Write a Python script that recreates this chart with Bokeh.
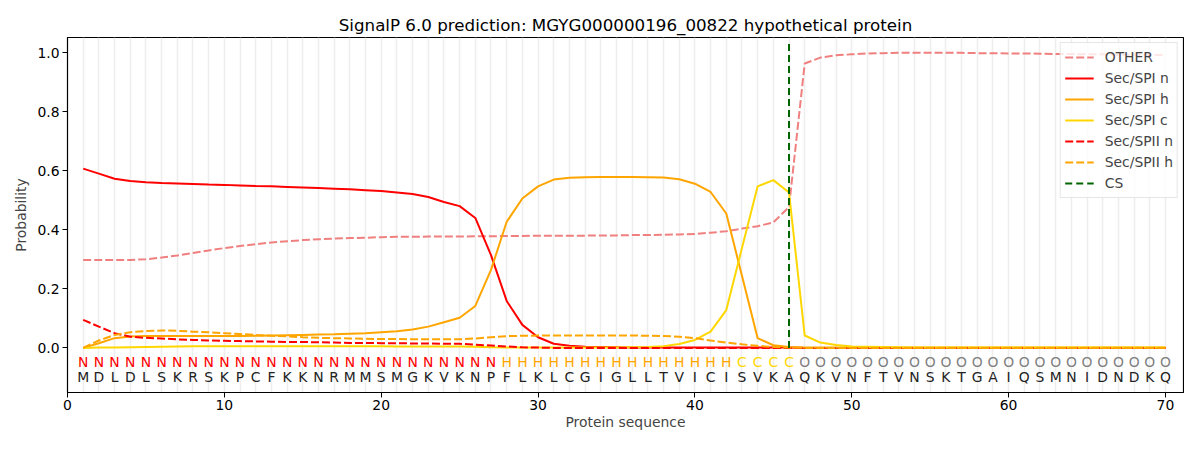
from bokeh.plotting import figure
from bokeh.models import ColumnDataSource, FixedTicker, Range1d, Legend
from bokeh.core.properties import value
from bokeh.embed import file_html
from bokeh.resources import INLINE

positions = list(range(1, 71))
sequence = list("MDLDLSKRSKPCFKKNRMMSMGKVKNPFLKLCGIGLLTVICISVKAQKVNFTVNSKTGAIQSMNIDNDKQ")
labels = list("N" * 27 + "H" * 15 + "C" * 4 + "O" * 24)
cs_position = 46

other = [0.298, 0.298, 0.298, 0.298, 0.300, 0.306, 0.313, 0.321, 0.330, 0.338,
         0.345, 0.351, 0.357, 0.361, 0.365, 0.368, 0.370, 0.372, 0.373, 0.375,
         0.376, 0.376, 0.377, 0.377, 0.377, 0.378, 0.378, 0.379, 0.379, 0.380,
         0.380, 0.380, 0.380, 0.381, 0.381, 0.382, 0.382, 0.383, 0.384, 0.386,
         0.390, 0.395, 0.404, 0.412, 0.425, 0.477, 0.963, 0.983, 0.991, 0.994,
         0.997, 0.998, 0.999, 0.999, 0.999, 0.999, 0.999, 0.998, 0.998, 0.997,
         0.997, 0.996, 0.995, 0.995, 0.994, 0.994, 0.993, 0.993, 0.992, 0.992]
sec_spi_n = [0.607, 0.590, 0.573, 0.565, 0.561, 0.558, 0.557, 0.555, 0.553, 0.552,
             0.550, 0.548, 0.547, 0.545, 0.543, 0.541, 0.539, 0.537, 0.534, 0.531,
             0.526, 0.521, 0.511, 0.494, 0.480, 0.440, 0.314, 0.159, 0.078, 0.036,
             0.014, 0.007, 0.004, 0.003, 0.002, 0.001, 0.001, 0.001, 0.001, 0.001,
             0.001, 0.001, 0.001, 0.001, 0.001, 0.001, 0.000, 0.000, 0.000, 0.000,
             0.000, 0.000, 0.000, 0.000, 0.000, 0.000, 0.000, 0.000, 0.000, 0.000,
             0.000, 0.000, 0.000, 0.000, 0.000, 0.000, 0.000, 0.000, 0.000, 0.000]
sec_spi_h = [0.000, 0.016, 0.033, 0.039, 0.040, 0.040, 0.040, 0.040, 0.040, 0.040,
             0.040, 0.041, 0.042, 0.043, 0.044, 0.045, 0.046, 0.048, 0.050, 0.053,
             0.056, 0.062, 0.072, 0.087, 0.102, 0.142, 0.264, 0.427, 0.506, 0.547,
             0.570, 0.576, 0.578, 0.579, 0.579, 0.579, 0.578, 0.577, 0.571, 0.556,
             0.528, 0.455, 0.244, 0.033, 0.009, 0.003, 0.001, 0.001, 0.001, 0.001,
             0.001, 0.001, 0.001, 0.001, 0.001, 0.001, 0.001, 0.001, 0.001, 0.001,
             0.001, 0.001, 0.001, 0.001, 0.001, 0.001, 0.001, 0.001, 0.001, 0.001]
sec_spi_c = [0.000, 0.001, 0.001, 0.002, 0.003, 0.004, 0.005, 0.006, 0.006, 0.006,
             0.006, 0.006, 0.006, 0.006, 0.006, 0.006, 0.006, 0.006, 0.006, 0.006,
             0.005, 0.005, 0.005, 0.005, 0.005, 0.004, 0.002, 0.001, 0.001, 0.001,
             0.001, 0.001, 0.001, 0.001, 0.001, 0.002, 0.003, 0.006, 0.013, 0.027,
             0.055, 0.128, 0.338, 0.547, 0.568, 0.526, 0.042, 0.018, 0.010, 0.005,
             0.004, 0.003, 0.002, 0.001, 0.001, 0.001, 0.001, 0.001, 0.001, 0.001,
             0.001, 0.001, 0.001, 0.001, 0.001, 0.001, 0.001, 0.001, 0.001, 0.001]
sec_spii_n = [0.095, 0.072, 0.050, 0.038, 0.034, 0.032, 0.029, 0.027, 0.025, 0.024,
              0.023, 0.022, 0.021, 0.020, 0.020, 0.019, 0.018, 0.017, 0.017, 0.016,
              0.016, 0.015, 0.015, 0.014, 0.014, 0.011, 0.008, 0.005, 0.002, 0.001,
              0.000, 0.000, 0.000, 0.000, 0.000, 0.000, 0.000, 0.000, 0.000, 0.000,
              0.000, 0.000, 0.000, 0.000, 0.000, 0.000, 0.000, 0.000, 0.000, 0.000,
              0.000, 0.000, 0.000, 0.000, 0.000, 0.000, 0.000, 0.000, 0.000, 0.000,
              0.000, 0.000, 0.000, 0.000, 0.000, 0.000, 0.000, 0.000, 0.000, 0.000]
sec_spii_h = [0.000, 0.025, 0.044, 0.053, 0.057, 0.059, 0.058, 0.055, 0.053, 0.050,
              0.047, 0.044, 0.041, 0.039, 0.036, 0.034, 0.033, 0.032, 0.031, 0.030,
              0.030, 0.029, 0.029, 0.029, 0.029, 0.032, 0.036, 0.040, 0.041, 0.042,
              0.042, 0.042, 0.042, 0.042, 0.042, 0.042, 0.041, 0.040, 0.038, 0.033,
              0.025, 0.018, 0.012, 0.007, 0.003, 0.001, 0.000, 0.000, 0.000, 0.000,
              0.000, 0.000, 0.000, 0.000, 0.000, 0.000, 0.000, 0.000, 0.000, 0.000,
              0.000, 0.000, 0.000, 0.000, 0.000, 0.000, 0.000, 0.000, 0.000, 0.000]

label_colors = {"N": "red", "H": "orange", "C": "gold", "O": "gray"}
FONT = "DejaVu Sans"
FS = "13.9px"

p = figure(width=1184, height=434, output_backend="svg", toolbar_location=None,
           x_range=Range1d(0, 71.15), y_range=Range1d(-0.151, 1.051),
           title="SignalP 6.0 prediction: MGYG000000196_00822 hypothetical protein")
p.min_border_left = 67
p.min_border_right = 1
p.min_border_top = 37
p.min_border_bottom = 42
p.background_fill_color = "white"
p.border_fill_color = "white"
p.outline_line_color = "black"
p.outline_line_width = 1.2

p.title.align = "center"
p.title.text_font = FONT
p.title.text_font_style = "normal"
p.title.text_font_size = "16.7px"
p.title.text_color = "black"
p.title.standoff = 6

# grid: vertical light lines at every residue
p.ygrid.visible = False
p.xgrid.ticker = FixedTicker(ticks=positions)
p.xgrid.grid_line_color = "#eeeeee"
p.xgrid.grid_line_width = 1.6

p.xaxis.ticker = FixedTicker(ticks=[0, 10, 20, 30, 40, 50, 60, 70])
p.yaxis.ticker = FixedTicker(ticks=[0.0, 0.2, 0.4, 0.6, 0.8, 1.0])
p.yaxis.major_label_overrides = {0.0: "0.0", 0.2: "0.2", 0.4: "0.4", 0.6: "0.6", 0.8: "0.8", 1.0: "1.0"}
for ax in (p.xaxis, p.yaxis):
    ax.minor_tick_line_color = None
    ax.major_tick_in = 0
    ax.major_tick_out = 5
    ax.major_label_text_font = FONT
    ax.major_label_text_font_size = FS
    ax.major_label_text_color = "black"
    ax.axis_label_text_font = FONT
    ax.axis_label_text_font_size = FS
    ax.axis_label_text_font_style = "normal"
    ax.axis_line_color = "black"
    ax.major_label_standoff = 3
p.xaxis.major_label_standoff = 2
p.xaxis.axis_label = "Protein sequence"
p.yaxis.axis_label = "Probability"
p.xaxis.axis_label_standoff = 1
p.yaxis.axis_label_standoff = 5

src = ColumnDataSource(dict(x=positions, other=other, spi_n=sec_spi_n, spi_h=sec_spi_h,
                            spi_c=sec_spi_c, spii_n=sec_spii_n, spii_h=sec_spii_h))

dash = "8 3"
r_other = p.line("x", "other", source=src, color="#F08080", line_width=2, line_dash=dash)
r_n = p.line("x", "spi_n", source=src, color="red", line_width=2)
r_h = p.line("x", "spi_h", source=src, color="orange", line_width=2)
r_c = p.line("x", "spi_c", source=src, color="gold", line_width=2)
r_iin = p.line("x", "spii_n", source=src, color="red", line_width=2, line_dash=dash)
r_iih = p.line("x", "spii_h", source=src, color="orange", line_width=2, line_dash=dash)
r_cs = p.line([cs_position, cs_position], [0.0, 1.04], color="darkgreen", line_width=2, line_dash="7 4")

# sequence annotation
lab_src = ColumnDataSource(dict(x=positions, y=[-0.048] * 70, text=labels,
                                color=[label_colors[l] for l in labels]))
seq_src = ColumnDataSource(dict(x=positions, y=[-0.1] * 70, text=sequence))
p.text("x", "y", text="text", source=lab_src, text_color="color",
       text_font=value(FONT), text_font_size=FS, text_align="center", text_baseline="middle")
p.text("x", "y", text="text", source=seq_src, text_color="#222222",
       text_font=value(FONT), text_font_size=FS, text_align="center", text_baseline="middle")

legend = Legend(items=[("OTHER", [r_other]), ("Sec/SPI n", [r_n]), ("Sec/SPI h", [r_h]),
                       ("Sec/SPI c", [r_c]), ("Sec/SPII n", [r_iin]), ("Sec/SPII h", [r_iih]),
                       ("CS", [r_cs])],
                location="top_right")
legend.margin = 5
legend.padding = 4
legend.spacing = 1
legend.glyph_width = 29
legend.glyph_height = 20
legend.label_height = 20
legend.label_standoff = 11
legend.label_text_font = FONT
legend.label_text_font_size = FS
legend.border_line_color = "#cccccc"
legend.border_line_width = 1
legend.background_fill_alpha = 0.8
p.add_layout(legend)

open("out.html", "w").write(file_html(p, INLINE))
